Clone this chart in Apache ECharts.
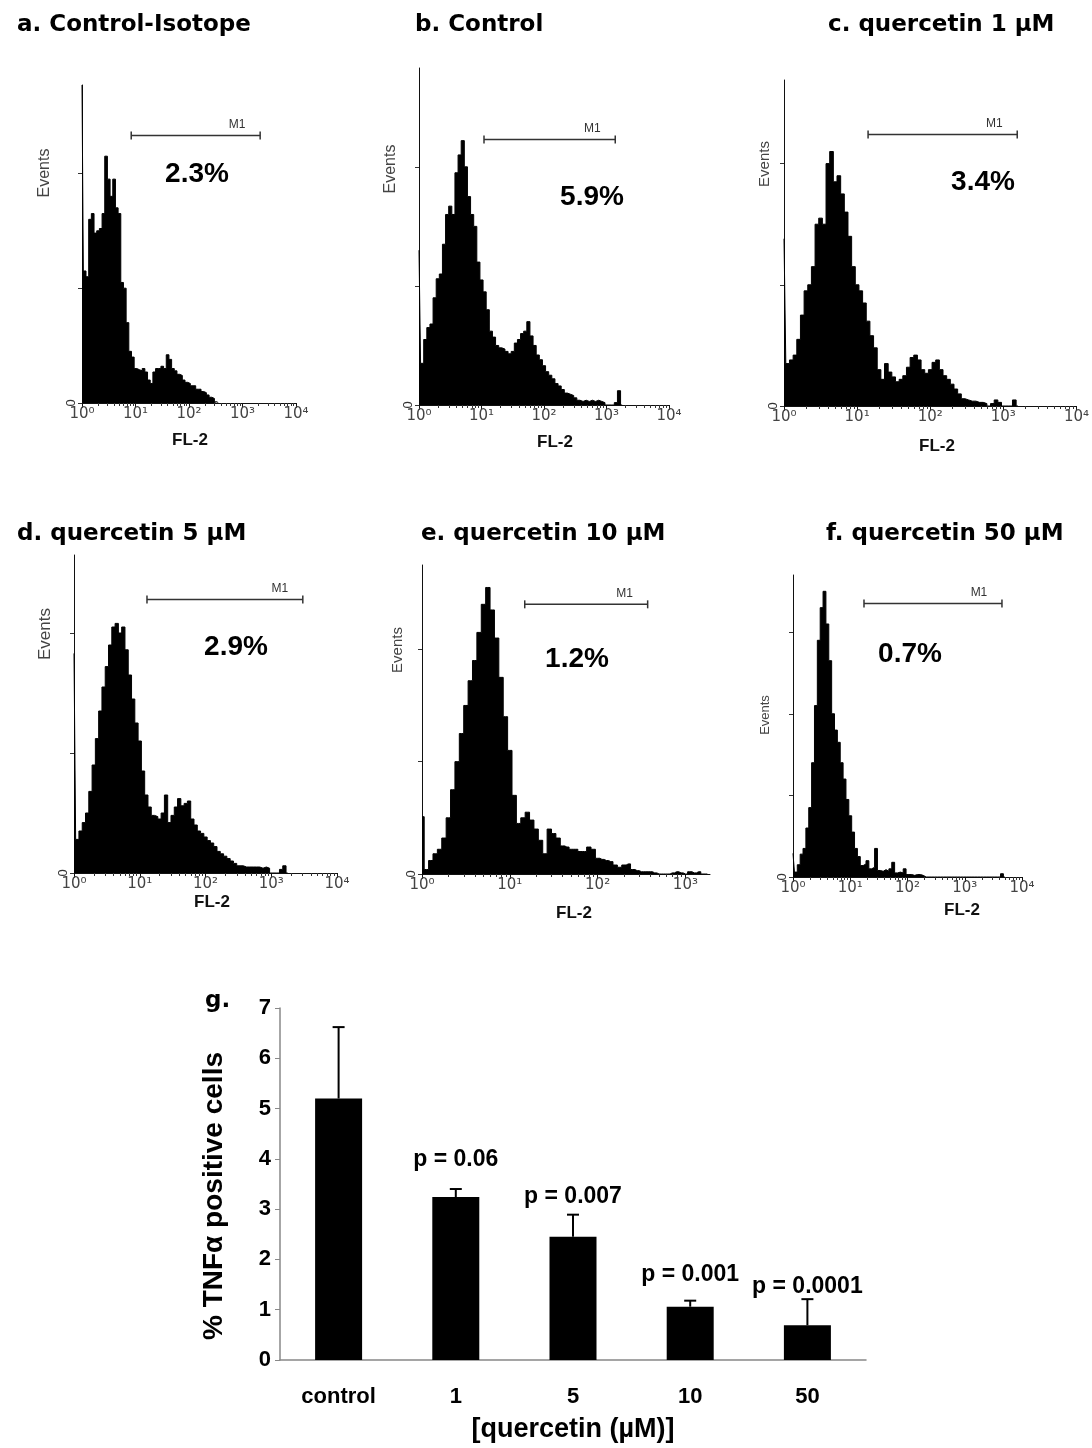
<!DOCTYPE html>
<html>
<head>
<meta charset="utf-8">
<script src="https://cdn.jsdelivr.net/npm/echarts@6/dist/echarts.min.js"></script>
<style>
  html, body { margin: 0; padding: 0; background: #fff; }
  #main { width: 1092px; height: 1448px; }
</style>
</head>
<body>
<div id="main"></div>
<script>
// FL-2 histograms, one value per 0.05 decade starting at 10^0 (events, axis tick = 100)
var histA = [277,115,110,160,165,148,150,152,165,215,195,180,195,170,165,105,100,70,45,40,
  30,29,28,30,27,20,17,27,30,30,32,30,42,38,30,28,25,24,20,18,
  17,15,15,12,12,10,9,7,5,4,1,0];
var histB = [130,35,55,65,68,90,106,110,135,160,167,160,195,210,222,200,175,160,150,120,
  105,95,80,62,57,50,48,47,45,43,45,52,55,60,62,70,58,50,42,38,
  33,28,25,22,18,16,13,10,9,8,6,4,3,4,3,4,3,4,3,2,
  0,0,0,2,12,0];
var histC = [138,35,38,42,55,75,95,100,115,150,155,150,200,210,185,190,175,160,140,115,
  100,95,85,70,58,48,30,22,35,28,24,20,22,25,32,40,42,38,30,27,
  30,36,38,30,25,22,18,14,10,6,5,4,4,3,3,2,0,2,5,3,
  0,0,0,5,0];
var histD = [183,28,35,42,50,68,90,112,135,155,172,190,205,208,200,205,186,165,145,125,
  110,85,65,55,48,47,45,50,65,42,48,55,62,56,58,60,45,40,35,33,
  30,27,25,22,18,16,14,12,10,8,6,6,5,5,5,5,5,4,5,4,
  0,0,0,3,6,0];
var histE = [51,4,12,18,22,32,50,75,100,125,150,172,190,215,240,255,235,210,175,140,
  110,70,45,50,55,48,40,30,18,40,36,32,25,24,22,22,20,20,24,22,
  14,13,12,11,8,6,8,9,4,3,2,2,2,1,0,0,0,1,2,1,
  0,2,1,2,0,0];
var histF = [29,6,15,28,35,60,85,140,210,290,330,350,310,265,200,180,165,140,120,95,
  75,55,35,25,14,16,20,10,12,35,8,7,9,7,10,18,5,6,5,10,
  3,3,2,3,3,2,0,0,0,0,0,0,0,0,0,0,0,0,0,0,
  0,0,0,0,0,0,0,0,0,0,0,0,0,4,0];
var histograms = [histA, histB, histC, histD, histE, histF];
var binStep = 0.05;

var panelTitles = ['a. Control-Isotope', 'b. Control', 'c. quercetin 1 µM',
  'd. quercetin 5 µM', 'e. quercetin 10 µM', 'f. quercetin 50 µM'];
var positivePct = [2.3, 5.9, 3.4, 2.9, 1.2, 0.7];
// M1 gate, in decades of FL-2
var m1Gates = [[0.92, 3.33], [1.04, 3.14], [1.15, 3.19], [1.11, 3.48], [1.17, 2.57], [1.24, 3.65]];
var fl2TickLabels = ['10⁰', '10¹', '10²', '10³', '10⁴'];

// bar chart g
var doseCategories = ['control', '1', '5', '10', '50'];
var tnfMeans = [5.2, 3.24, 2.45, 1.06, 0.69];
var tnfErrors = [1.42, 0.16, 0.44, 0.12, 0.52];
var pValues = ['', 'p = 0.06', 'p = 0.007', 'p = 0.001', 'p = 0.0001'];

// layout of the six flow panels
var panels = [
  { grid: { left: 82, top: 85, width: 214, height: 318 }, xMax: 4, yMax: 277, yTicks: [0, 100, 200], m1Y: 233,
    title: [12, 9], events: [45, 173, 16], pct: [197, 174], fl2: [190, 440] },
  { grid: { left: 419, top: 68, width: 250, height: 337 }, xMax: 4, yMax: 283, yTicks: [0, 100, 200], m1Y: 223,
    title: [410, 9], events: [391, 169, 16], pct: [592, 197], fl2: [555, 442] },
  { grid: { left: 784, top: 80, width: 293, height: 326 }, xMax: 4, yMax: 269, yTicks: [0, 100, 200], m1Y: 224,
    title: [823, 9], events: [765, 164, 15], pct: [983, 182], fl2: [937, 446] },
  { grid: { left: 74, top: 555, width: 263, height: 318 }, xMax: 4, yMax: 265, yTicks: [0, 100, 200], m1Y: 228,
    title: [12, 518], events: [45, 634, 17], pct: [236, 647], fl2: [212, 902] },
  { grid: { left: 422, top: 565, width: 288, height: 309 }, xMax: 3.28, yMax: 275, yTicks: [0, 100, 200], m1Y: 240,
    title: [416, 518], events: [398, 650, 15], pct: [577, 659], fl2: [574, 913] },
  { grid: { left: 793, top: 575, width: 229, height: 302 }, xMax: 4, yMax: 370, yTicks: [0, 100, 200, 300], m1Y: 335,
    title: [821, 518], events: [765, 715, 13], pct: [910, 654], fl2: [962, 910] }
];

function logMinorTicks(max) {
  var out = [];
  for (var k = 0; k < 4; k++) {
    for (var m = 2; m <= 9; m++) {
      var v = k + Math.log10(m);
      if (v <= max) out.push(v);
    }
  }
  return out;
}

var chart = echarts.init(document.getElementById('main'), null, { width: 1092, height: 1448 });

var grids = [], xAxes = [], yAxes = [], series = [], titles = [], graphics = [];

panels.forEach(function (p, i) {
  grids.push(p.grid);
  var majors = [];
  for (var k = 0; k <= Math.floor(p.xMax); k++) majors.push(k);

  xAxes.push({
    type: 'value', gridIndex: i, min: 0, max: p.xMax, interval: 1,
    axisLine: { lineStyle: { color: '#111', width: 1 } },
    axisTick: { length: 5, lineStyle: { color: '#111' }, customValues: majors },
    axisLabel: {
      customValues: majors, margin: 4, fontSize: 15, color: '#444', fontFamily: 'DejaVu Sans',
      formatter: function (v) { return fl2TickLabels[Math.round(v)]; }
    },
    splitLine: { show: false }
  });
  xAxes.push({
    type: 'value', gridIndex: i, min: 0, max: p.xMax, position: 'bottom',
    axisLine: { show: false },
    axisTick: { length: 3, lineStyle: { color: '#333' }, customValues: logMinorTicks(p.xMax) },
    axisLabel: { show: false },
    splitLine: { show: false }
  });
  yAxes.push({
    type: 'value', gridIndex: i, min: 0, max: p.yMax,
    axisLine: { show: true, lineStyle: { color: '#111', width: 1 } },
    axisTick: { show: true, length: 4, lineStyle: { color: '#333' }, customValues: p.yTicks },
    axisLabel: {
      customValues: [0], rotate: 90, margin: 4, fontSize: 13, color: '#333',
      formatter: function (v) { return v === 0 ? '0' : ''; }
    },
    splitLine: { show: false }
  });

  var pts = histograms[i].map(function (v, j) { return [j * binStep, v]; });
  series.push({
    type: 'line', xAxisIndex: 2 * i, yAxisIndex: i, data: pts,
    step: 'middle', symbol: 'none',
    lineStyle: { color: '#000', width: 1 },
    areaStyle: { color: '#000', opacity: 1 }
  });

  series.push({
    type: 'line', xAxisIndex: 2 * i, yAxisIndex: i, z: 5,
    data: [
      [m1Gates[i][0], p.m1Y],
      { value: [m1Gates[i][1], p.m1Y],
        label: { show: true, formatter: 'M1', position: 'top', distance: 1, offset: [-23, 0],
          fontSize: 12, color: '#333', fontFamily: 'Liberation Sans' } }
    ],
    symbol: 'rect', symbolSize: [1.5, 8],
    itemStyle: { color: '#333' },
    lineStyle: { color: '#333', width: 1.5 }
  });

  titles.push({
    text: panelTitles[i], left: p.title[0], top: p.title[1],
    textStyle: { fontFamily: 'DejaVu Sans', fontWeight: 'bold', fontSize: 23, color: '#000' }
  });

  graphics.push({
    type: 'text', x: p.events[0], y: p.events[1], rotation: Math.PI / 2,
    style: { text: 'Events', x: 0, y: 0, align: 'center', verticalAlign: 'middle',
      fontFamily: 'Liberation Sans', fontSize: p.events[2], fill: '#444' }
  });
  graphics.push({
    type: 'text', x: p.pct[0], y: p.pct[1],
    style: { text: positivePct[i].toFixed(1) + '%', x: 0, y: 0, align: 'center', verticalAlign: 'middle',
      fontFamily: 'Liberation Sans', fontWeight: 'bold', fontSize: 28, fill: '#000' }
  });
  graphics.push({
    type: 'text', x: p.fl2[0], y: p.fl2[1],
    style: { text: 'FL-2', x: 0, y: 0, align: 'center', verticalAlign: 'middle',
      fontFamily: 'Liberation Sans', fontWeight: 'bold', fontSize: 17, fill: '#111' }
  });
});

// bar chart g
var g = panels.length;
grids.push({ left: 280, top: 1008, width: 586, height: 352 });
xAxes.push({
  type: 'category', gridIndex: g, data: doseCategories,
  axisLine: { lineStyle: { color: '#888', width: 1.5 } },
  axisTick: { length: 7, lineStyle: { color: '#888' } },
  axisLabel: { margin: 26, fontSize: 22, fontWeight: 'bold', color: '#000' },
  name: '[quercetin (µM)]', nameLocation: 'middle', nameGap: 56,
  nameTextStyle: { fontSize: 27, fontWeight: 'bold', color: '#000' }
});
yAxes.push({
  type: 'value', gridIndex: g, min: 0, max: 7, interval: 1,
  axisLine: { show: true, lineStyle: { color: '#888', width: 1.5 } },
  axisTick: { show: true, length: 5, lineStyle: { color: '#888' } },
  axisLabel: { margin: 9, fontSize: 22, fontWeight: 'bold', color: '#000' },
  splitLine: { show: false },
  name: '% TNFα positive cells', nameLocation: 'middle', nameGap: 52, nameRotate: 90,
  nameTextStyle: { fontSize: 28, fontWeight: 'bold', color: '#000', padding: [0, 24, 0, 0] }
});
series.push({
  type: 'bar', xAxisIndex: 2 * g, yAxisIndex: g, data: tnfMeans,
  barWidth: 47, itemStyle: { color: '#000' }
});
series.push({
  type: 'custom', xAxisIndex: 2 * g, yAxisIndex: g, z: 4,
  data: tnfMeans.map(function (m, i) { return [i, m, m + tnfErrors[i]]; }),
  renderItem: function (params, api) {
    var base = api.coord([api.value(0), api.value(1)]);
    var top = api.coord([api.value(0), api.value(2)]);
    return {
      type: 'group',
      children: [
        { type: 'line', shape: { x1: base[0], y1: base[1], x2: top[0], y2: top[1] },
          style: { stroke: '#000', lineWidth: 2 } },
        { type: 'line', shape: { x1: top[0] - 6, y1: top[1], x2: top[0] + 6, y2: top[1] },
          style: { stroke: '#000', lineWidth: 2 } }
      ]
    };
  }
});
// p-value labels sit above the error bars
var pLabelY = [0, 3.98, 3.24, 1.69, 1.45];
series.push({
  type: 'scatter', xAxisIndex: 2 * g, yAxisIndex: g, symbolSize: 0,
  itemStyle: { opacity: 1 },
  data: pValues.map(function (t, i) { return { value: [i, pLabelY[i]], name: t }; }).filter(function (d) { return d.name; }),
  label: { show: true, position: 'inside', formatter: '{b}', fontSize: 23, fontWeight: 'bold', color: '#000' }
});
titles.push({
  text: 'g.', left: 200, top: 985,
  textStyle: { fontFamily: 'DejaVu Sans', fontWeight: 'bold', fontSize: 23, color: '#000' }
});

var option = {
  backgroundColor: '#ffffff',
  animation: false,
  textStyle: { fontFamily: 'Liberation Sans' },
  title: titles,
  grid: grids,
  xAxis: xAxes,
  yAxis: yAxes,
  series: series,
  graphic: graphics
};

chart.setOption(option);
</script>
</body>
</html>
